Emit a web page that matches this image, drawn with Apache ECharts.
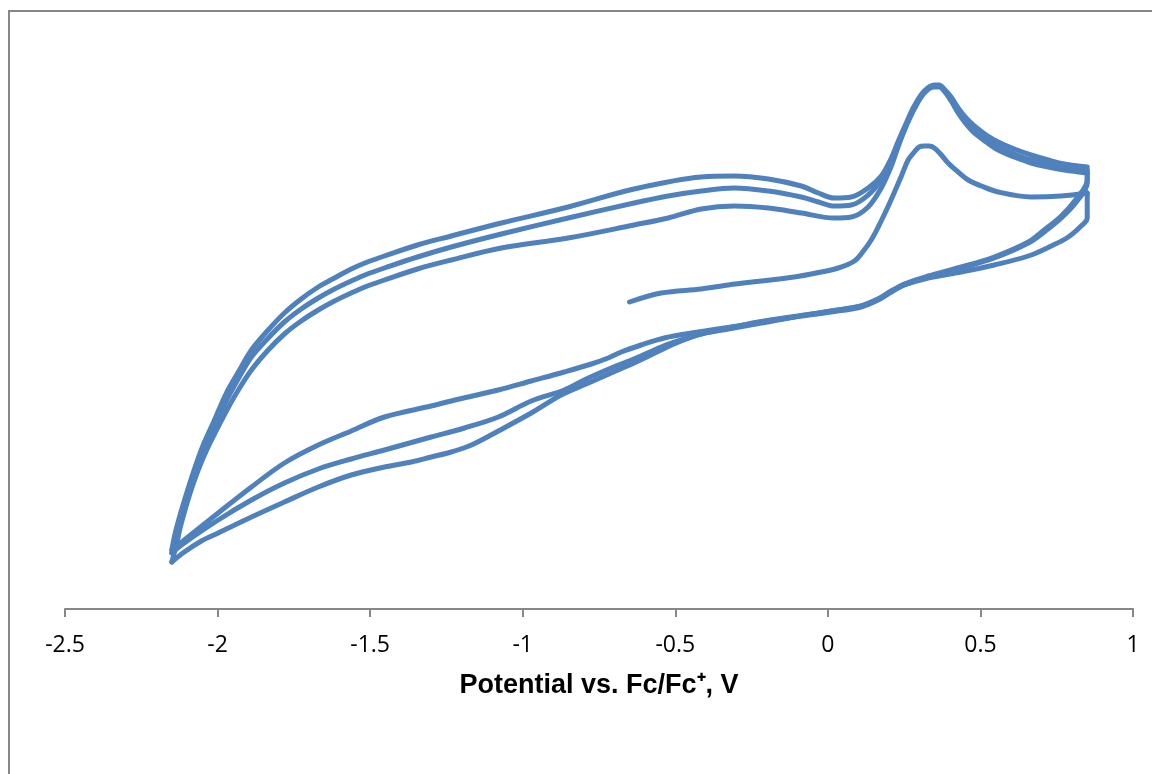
<!DOCTYPE html>
<html>
<head>
<meta charset="utf-8">
<script src="https://cdn.jsdelivr.net/npm/echarts@6/dist/echarts.min.js"></script>
<style>
html,body{margin:0;padding:0;background:#fff;}
#chart{width:1152px;height:774px;}
</style>
</head>
<body>
<div id="chart"></div>
<script>
// Potential (V vs Fc/Fc+) and current (arbitrary units)
const xTicks = [-2.5, -2, -1.5, -1, -0.5, 0, 0.5, 1];
const xTitle = 'Potential vs. Fc/Fc\u207A, V';

const scan0 = [[-0.65,30.7],[-0.546,31.6],[-0.415,32.0],[-0.326,32.4],[-0.218,32.8],[-0.110,33.2],[-0.038,33.6],[0.034,34.1],[0.087,34.8],[0.119,35.9],[0.142,36.9],[0.165,38.2],[0.192,39.9],[0.217,41.6],[0.241,43.3],[0.263,44.9],[0.283,45.7],[0.299,46.2],[0.316,46.3],[0.332,46.3],[0.349,46.1],[0.372,45.4],[0.394,44.6],[0.427,43.7],[0.460,42.9],[0.503,42.3],[0.558,41.7],[0.666,41.2],[0.765,41.3],[0.85,41.6]];

const cathodic1 = [[0.85,41.6],[0.85,39.1],[0.830,38.3],[0.788,37.2],[0.732,36.3],[0.657,35.3],[0.545,34.4],[0.437,33.7],[0.329,33.1],[0.250,32.4],[0.208,31.8],[0.165,31.0],[0.109,30.3],[0.011,29.8],[-0.110,29.2],[-0.218,28.6],[-0.326,28.0],[-0.415,27.5],[-0.481,26.8],[-0.546,25.9],[-0.628,24.7],[-0.710,23.6],[-0.792,22.5],[-0.874,21.4],[-0.972,19.6],[-1.080,17.8],[-1.168,16.4],[-1.234,15.7],[-1.300,15.2],[-1.365,14.7],[-1.453,14.2],[-1.562,13.4],[-1.670,12.2],[-1.781,10.7],[-1.889,9.2],[-1.998,7.6],[-2.053,6.8],[-2.109,5.7],[-2.15,4.7]];

const anodic1 = [[-2.15,4.7],[-2.135,6.4],[-2.122,8.2],[-2.102,10.4],[-2.079,12.6],[-2.053,14.7],[-2.020,16.9],[-1.978,19.4],[-1.938,21.6],[-1.889,23.9],[-1.834,25.9],[-1.781,27.5],[-1.726,28.8],[-1.670,29.9],[-1.617,30.8],[-1.562,31.6],[-1.509,32.3],[-1.453,32.9],[-1.345,34.0],[-1.234,34.9],[-1.070,36.1],[-0.851,37.1],[-0.635,38.4],[-0.523,39.1],[-0.415,40.0],[-0.307,40.3],[-0.195,40.1],[-0.087,39.6],[0.021,39.1],[0.077,39.2],[0.132,40.2],[0.175,42.1],[0.208,44.3],[0.231,46.3],[0.257,48.3],[0.283,50.0],[0.316,51.6],[0.349,52.2],[0.365,52.2],[0.381,51.8],[0.404,50.8],[0.427,49.6],[0.453,48.5],[0.480,47.6],[0.519,46.7],[0.558,45.9],[0.611,45.2],[0.666,44.6],[0.722,44.2],[0.775,43.9],[0.85,43.6]];

const cathodic2 = [[0.85,43.6],[0.85,42.6],[0.814,40.7],[0.765,39.1],[0.709,37.7],[0.657,36.6],[0.545,35.1],[0.437,34.1],[0.329,33.2],[0.250,32.4],[0.208,31.7],[0.165,30.9],[0.109,30.2],[0.011,29.7],[-0.110,29.2],[-0.218,28.7],[-0.326,28.1],[-0.415,27.5],[-0.481,26.9],[-0.546,26.2],[-0.628,25.1],[-0.710,24.1],[-0.792,23.0],[-0.864,21.9],[-0.972,20.8],[-1.080,19.2],[-1.191,18.1],[-1.300,17.2],[-1.453,15.9],[-1.562,15.0],[-1.670,14.0],[-1.781,12.6],[-1.889,10.9],[-1.998,8.9],[-2.109,6.6],[-2.15,5.6]];

const anodic2 = [[-2.15,5.6],[-2.135,7.4],[-2.115,9.7],[-2.092,11.9],[-2.066,14.1],[-2.037,16.4],[-2.004,18.6],[-1.965,21.2],[-1.927,23.3],[-1.889,25.2],[-1.834,27.1],[-1.781,28.7],[-1.726,30.0],[-1.670,31.1],[-1.617,32.0],[-1.562,32.8],[-1.509,33.5],[-1.453,34.1],[-1.345,35.2],[-1.234,36.2],[-1.070,37.5],[-0.851,39.1],[-0.635,40.6],[-0.523,41.3],[-0.415,41.8],[-0.307,42.1],[-0.195,41.8],[-0.087,41.2],[-0.031,40.7],[0.021,40.3],[0.077,40.4],[0.132,41.4],[0.175,42.9],[0.208,44.7],[0.231,46.5],[0.257,48.4],[0.283,50.1],[0.316,51.7],[0.349,52.3],[0.365,52.3],[0.381,51.9],[0.404,51.0],[0.427,49.8],[0.453,48.8],[0.480,47.9],[0.519,47.0],[0.558,46.2],[0.611,45.5],[0.666,44.9],[0.722,44.5],[0.775,44.2],[0.85,43.9]];

const cathodic3 = [[0.85,43.9],[0.85,42.9],[0.814,41.0],[0.765,39.3],[0.709,37.9],[0.657,36.7],[0.545,35.2],[0.437,34.2],[0.329,33.3],[0.250,32.5],[0.208,31.8],[0.165,31.0],[0.109,30.3],[0.011,29.8],[-0.054,29.5],[-0.208,28.8],[-0.317,28.2],[-0.425,27.7],[-0.536,27.1],[-0.612,26.4],[-0.677,25.7],[-0.720,25.1],[-0.775,24.5],[-0.864,23.7],[-0.972,22.8],[-1.080,21.9],[-1.234,20.8],[-1.300,20.3],[-1.453,19.2],[-1.562,17.8],[-1.670,16.4],[-1.781,14.6],[-1.889,12.2],[-1.998,9.6],[-2.109,6.9],[-2.15,5.9]];

const anodic3 = [[-2.15,5.9],[-2.138,7.7],[-2.118,9.9],[-2.095,12.2],[-2.069,14.6],[-2.043,16.7],[-2.013,18.7],[-1.971,21.6],[-1.930,23.8],[-1.889,25.9],[-1.834,27.9],[-1.781,29.6],[-1.726,31.0],[-1.670,32.2],[-1.617,33.1],[-1.562,34.0],[-1.509,34.7],[-1.453,35.3],[-1.345,36.4],[-1.234,37.3],[-1.070,38.6],[-0.851,40.2],[-0.635,42.0],[-0.415,43.2],[-0.307,43.3],[-0.195,43.0],[-0.087,42.3],[-0.031,41.6],[0.021,41.1],[0.077,41.2],[0.132,42.1],[0.175,43.3],[0.208,45.1],[0.231,46.8],[0.257,48.6],[0.283,50.3],[0.316,51.8],[0.349,52.4],[0.365,52.4],[0.381,52.0],[0.404,51.2],[0.427,50.1],[0.453,49.1],[0.480,48.3],[0.519,47.4],[0.558,46.7],[0.611,46.0],[0.666,45.4],[0.722,44.9],[0.775,44.5],[0.85,44.2]];

const segments = [scan0, cathodic1, anodic1, cathodic2, anodic2, cathodic3, anodic3];

const chart = echarts.init(document.getElementById('chart'), null, {renderer: 'canvas'});
const lineColor = '#4F81BD';
const axisColor = '#878787';

const option = {
  backgroundColor: '#ffffff',
  animation: false,
  grid: {left: 65, right: 19, top: 49, bottom: 165, outerBoundsMode: 'none'},
  xAxis: {
    type: 'value',
    min: xTicks[0],
    max: xTicks[xTicks.length - 1],
    interval: 0.5,
    name: xTitle,
    nameLocation: 'middle',
    nameGap: 63,
    nameTextStyle: {fontFamily: 'Liberation Sans', fontWeight: 'bold', fontSize: 27, color: '#000'},
    axisLine: {show: true, onZero: false, lineStyle: {color: axisColor, width: 2}},
    axisTick: {show: true, inside: false, length: 8, lineStyle: {color: axisColor, width: 2}},
    axisLabel: {fontFamily: 'Open Sans', fontSize: 23, color: '#000', margin: 25},
    splitLine: {show: false}
  },
  yAxis: {
    type: 'value', min: 0, max: 56, show: false, splitLine: {show: false}
  },
  graphic: [{
    type: 'rect', silent: true,
    shape: {x: 9, y: 11, width: 1200, height: 800},
    style: {fill: 'none', stroke: axisColor, lineWidth: 2}
  }],
  series: segments.map(function (seg) {
    return {
      type: 'line', data: seg, showSymbol: false, smooth: 0.35,
      lineStyle: {color: lineColor, width: 5, cap: 'round', join: 'round'},
      emphasis: {disabled: true}
    };
  })
};
chart.setOption(option);
</script>
</body>
</html>
